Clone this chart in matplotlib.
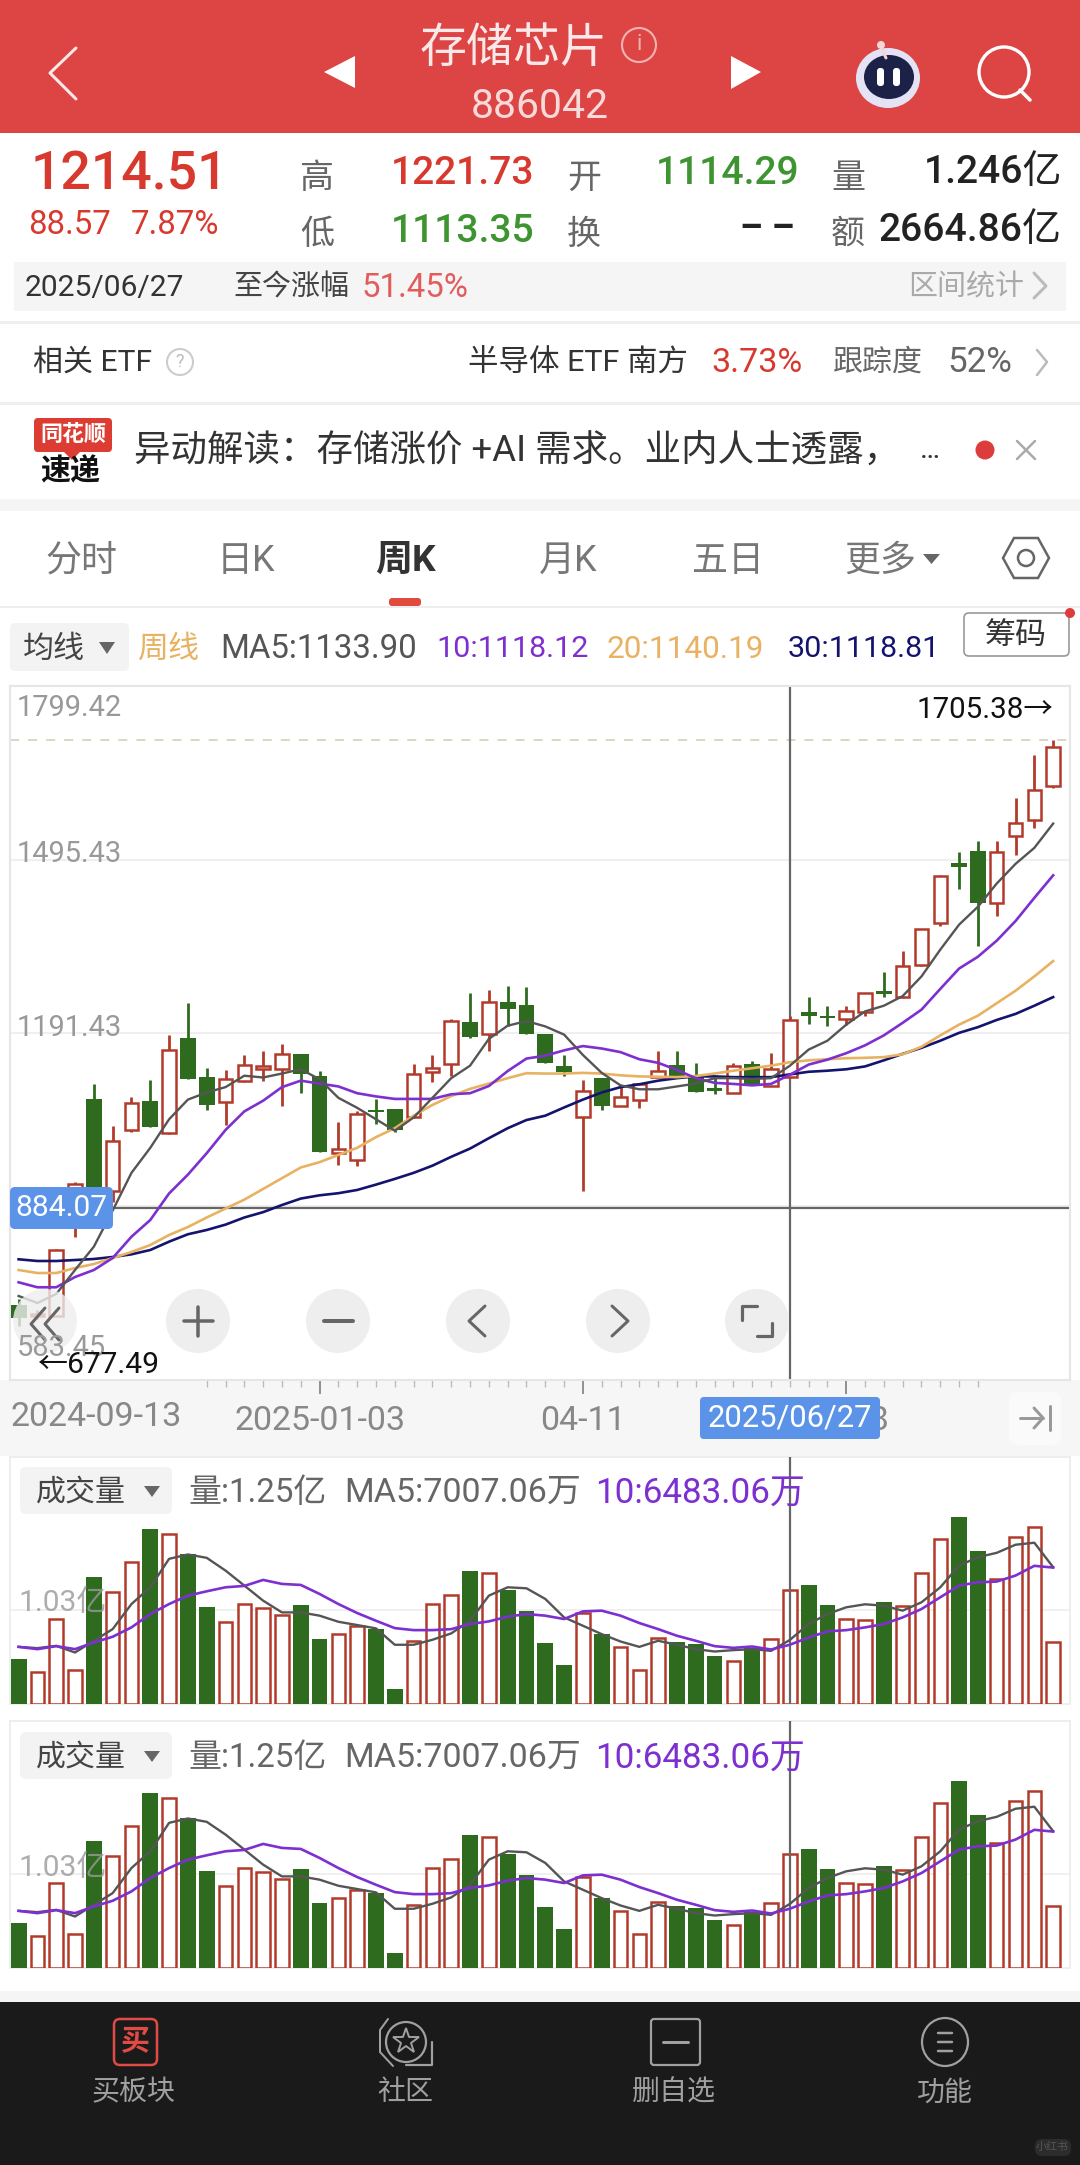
import matplotlib
matplotlib.use("Agg")
import matplotlib.pyplot as plt
from matplotlib.patches import Rectangle, Circle, Ellipse, FancyBboxPatch, Polygon

plt.rcParams['font.family'] = ['Roboto', 'Noto Sans CJK SC', 'DejaVu Sans']

# ---------- data ----------
opens = [714.3,695.0,695.5,889.7,1076.4,913.6,1021.3,1072.7,1016.3,1182.9,1113.4,1070.2,1107.1,1127.8,1127.8,1154.1,1116.5,980.6,968.1,1057.0,1058.9,1044.5,1123.4,1137.2,1211.1,1190.5,1245.0,1240.0,1189.2,1133.5,1044.5,1112.2,1063.3,1074.6,1113.4,1135.3,1115.3,1094.6,1085.8,1136.6,1097.7,1114.29,1227.4,1221.8,1216.1,1228.1,1265.6,1255.0,1310.7,1384.7,1489.9,1510.0,1419.1,1536.3,1565.1,1624.6]
highs = [725,705,812,930,1101.5,1027.6,1079.6,1109.0,1187.3,1243.7,1130.9,1126.6,1152.9,1159.1,1171.7,1154.1,1124.7,1035.7,1053.9,1076.4,1058.9,1137.2,1152.9,1215.5,1261.3,1267.5,1273.8,1271.9,1189.2,1152.9,1109.0,1112.2,1096.5,1102.7,1159.1,1159.1,1139.1,1112.2,1138.5,1142.9,1156.0,1221.73,1254.4,1239.3,1239.3,1261.3,1298.8,1334.6,1373.4,1469.3,1508.1,1528.8,1528.8,1604.0,1679.1,1705.38]
lows = [677.49,690,695,834.1,870,895.5,1016.9,1025.7,1015.0,1110.3,1057.0,1029.5,1105.9,1107.8,1063.3,1085.8,982.5,959.9,957.4,1032.6,1018.2,1043.2,1105.9,1116.5,1182.3,1159.1,1203.0,1189.2,1138.5,1116.5,914.8,1055.8,1063.3,1060.2,1113.4,1115.3,1088.3,1085.2,1085.8,1102.7,1097.7,1113.35,1208.0,1203.0,1206.1,1221.8,1255.0,1253.1,1309.5,1378.4,1444.2,1344.0,1396.0,1503.7,1550.7,1620.9]
closes = [691.0,698.5,810.8,927.3,872.2,1002.5,1068.3,1025.7,1162.3,1110.3,1065.2,1110.9,1136.0,1134.1,1154.1,1119.7,982.5,988.7,1049.5,1052.6,1021.3,1120.3,1130.9,1212.4,1184.2,1245.6,1234.3,1189.2,1138.5,1123.4,1090.2,1063.9,1079.6,1101.5,1124.7,1115.3,1088.3,1090.2,1134.1,1102.7,1127.8,1214.51,1221.2,1217.4,1230.6,1261.3,1259.4,1308.2,1373.4,1466.8,1482.4,1419.1,1509.4,1560.1,1617.7,1693.5]
ma5 = [730.1,717.8,733.6,775.7,816.6,880.0,946.1,990.0,1040.1,1074.6,1087.1,1096.5,1116.5,1113.4,1120.3,1127.8,1110.3,1077.7,1060.2,1040.1,1020.1,1043.2,1077.7,1112.2,1134.1,1181.1,1204.2,1212.4,1203.0,1188.6,1152.9,1121.5,1099.6,1092.7,1092.7,1097.7,1102.7,1112.2,1112.2,1110.9,1112.2,1133.9,1162.3,1177.9,1206.1,1229.3,1239.3,1256.2,1290.7,1337.7,1381.5,1412.9,1453.6,1488.1,1516.2,1558.8]
ma10 = [754.1,745.4,745.4,763.4,775.7,796.7,834.1,863.4,910.0,943.0,980.6,1021.3,1053.9,1072.7,1096.5,1107.8,1102.7,1097.7,1085.8,1080.2,1075.8,1075.8,1075.8,1084.0,1085.8,1098.4,1124.7,1146.6,1151.6,1161.0,1168.5,1164.2,1157.9,1145.4,1139.1,1126.6,1112.2,1104.0,1102.1,1099.6,1102.1,1118.12,1136.0,1144.7,1156.0,1169.8,1187.3,1209.3,1232.4,1268.8,1304.5,1325.2,1353.4,1387.8,1428.5,1468.0]
ma20 = [775.7,770.4,770.4,779.2,786.2,796.7,807.3,819.5,837.1,851.1,867.8,883.5,899.1,917.9,936.7,955.5,964.9,977.5,990.0,1008.8,1024.4,1046.4,1065.2,1080.8,1093.4,1102.7,1112.2,1120.9,1120.3,1120.3,1121.5,1120.3,1117.2,1115.3,1114.7,1114.0,1115.9,1120.3,1125.3,1129.7,1134.1,1140.19,1143.5,1145.4,1147.2,1147.9,1149.1,1154.1,1167.3,1187.3,1206.1,1221.8,1243.7,1265.6,1290.7,1317.6]
ma30 = [794.5,791.5,791.5,793.2,795.0,798.5,803.2,810.8,825.4,838.4,845.9,855.3,867.8,877.2,889.7,901.0,906.7,910.4,916.1,925.5,935.5,946.1,958.7,974.3,988.7,1006.9,1024.4,1038.8,1046.4,1060.8,1074.6,1087.1,1096.5,1101.5,1107.8,1112.2,1115.3,1115.3,1114.0,1114.0,1114.0,1118.81,1123.4,1125.3,1127.8,1132.8,1143.5,1154.8,1165.4,1177.9,1191.7,1201.7,1214.3,1224.9,1239.3,1254.4]
volume = [.489,.353,.931,.372,1.398,1.232,1.560,1.924,1.862,1.641,1.067,.894,1.093,1.048,.971,1.085,.710,.765,.854,.820,.158,.688,1.093,1.199,1.457,1.438,1.251,1.023,.666,.430,.993,.765,.622,.375,.717,.681,.655,.530,.467,.611,.710,1.247,1.310,1.085,.934,.920,1.115,1.074,1.442,1.806,2.057,1.678,1.369,1.836,1.943,.673]
vol_ma5 = [.625,.611,.636,.563,.692,.820,1.096,1.280,1.593,1.641,1.604,1.464,1.299,1.133,1.004,1.004,.968,.901,.865,.828,.648,.648,.703,.773,.912,1.188,1.280,1.269,1.152,.949,.857,.765,.684,.625,.692,.648,.600,.574,.589,.600,.581,.7007,.876,.986,1.060,1.093,1.078,1.023,1.115,1.280,1.519,1.611,1.659,1.748,1.770,1.501]
vol_ma10 = [.625,.600,.633,.600,.673,.736,.839,.986,1.096,1.188,1.236,1.280,1.295,1.361,1.317,1.306,1.207,1.096,.997,.912,.831,.809,.809,.820,.876,.905,.957,.986,.968,.931,1.015,1.023,.968,.887,.820,.747,.692,.633,.614,.629,.596,.648,.728,.795,.809,.839,.876,.949,1.041,1.170,1.299,1.335,1.343,1.409,1.516,1.497]
price_ticks = [1799.42, 1495.43, 1191.43, 583.45]
grid_prices = [1495.43, 1191.43, 887.44]
date_ticks = [16, 30, 44]
date_labels = ['2025-01-03', '04-11', '07-18']
cross_index = 41
cross_price = 884.07
top_price = 1705.38
vol_grid = 1.03

W, H = 1080, 2165
RED = '#B23A2B'; GREEN = '#2E6B1E'; GRAYL = '#555555'; PURPLE = '#7D2FD0'; ORANGE = '#E8B262'; NAVY = '#14146E'
HDR = '#DD4545'; UPT = '#D8392E'; DNT = '#3E9430'; LINE = '#EFEFEF'

fig = plt.figure(figsize=(W/100, H/100), dpi=100, facecolor='white')
def axpx(l, t, r, b, z):
    return fig.add_axes([l/W, 1-b/H, (r-l)/W, (b-t)/H], zorder=z)

bg = axpx(0, 0, W, H, 0); fg = axpx(0, 0, W, H, 5)
for a in (bg, fg):
    a.set_xlim(0, W); a.set_ylim(H, 0); a.axis('off'); a.patch.set_alpha(0)

def rect(a, l, t, r, b, c, **k):
    a.add_patch(Rectangle((l, t), r-l, b-t, fc=c, ec='none', **k))
def rbox(a, l, t, r, b, rad, fc, ec='none', lw=0, **k):
    a.add_patch(FancyBboxPatch((l, t), r-l, b-t, boxstyle=f'round,pad=0,rounding_size={rad}', fc=fc, ec=ec, lw=lw, **k))
def T(a, x, y, s, px, c, ha='center', **k):
    return a.text(x, y + 3, s, fontsize=px*0.72, color=c, ha=ha, va='center', **k)
def L(a, xs, ys, c, w=2, **k):
    a.plot(xs, ys, color=c, lw=w*0.72, solid_capstyle='round', solid_joinstyle='round', **k)

# ---------- header ----------
rect(bg, 0, 0, W, 133, HDR)
WT = '#FBE9E9'
T(bg, 514, 46, '存储芯片', 47, WT)
T(bg, 540, 103, '886042', 41, '#F8DADA')
bg.add_patch(Circle((639, 45), 17, fc='none', ec='#F3B4B0', lw=1.5))
T(bg, 639, 42, 'i', 22, '#F3B4B0')
L(bg, [76, 50, 76], [48, 73, 99], WT, 3)
bg.add_patch(Polygon([(355, 56), (324, 72), (355, 88)], fc='white', ec='none'))
bg.add_patch(Polygon([(731, 56), (761, 72), (731, 89)], fc='white', ec='none'))
bg.add_patch(Ellipse((888, 78), 64, 60, fc='#E3E3F5', ec='none'))
bg.add_patch(Ellipse((889, 77), 50, 44, fc='#1C2148', ec='none'))
rbox(bg, 877, 68, 884, 86, 3, 'white'); rbox(bg, 893, 68, 900, 86, 3, 'white')
bg.add_patch(Circle((881, 45), 4, fc='#F3D6D6', ec='none'))
L(bg, [881, 886], [47, 58], '#F3D6D6', 3)
bg.add_patch(Circle((1004, 72), 25, fc='none', ec='white', lw=2.4))
L(bg, [1020, 1030], [90, 100], 'white', 3.5)

# ---------- quote ----------
T(bg, 31, 172, '1214.51', 53.5, UPT, ha='left', weight='medium')
T(bg, 28, 222, '88.57', 33, UPT, ha='left')
T(bg, 131, 222, '7.87%', 33, UPT, ha='left')
for x, y, s in [(317, 176, '高'), (317, 232, '低'), (584, 176, '开'), (584, 232, '换'), (848, 176, '量'), (848, 232, '额')]:
    T(bg, x, y, s, 34, '#666666')
T(bg, 391, 170, '1221.73', 39, UPT, ha='left', weight='medium')
T(bg, 391, 228, '1113.35', 39, DNT, ha='left', weight='medium')
T(bg, 656, 170, '1114.29', 39, DNT, ha='left', weight='medium')
T(bg, 794, 226, '– –', 36, '#222222', ha='right', weight='bold')
T(bg, 1062, 170, '1.246亿', 39, '#222222', ha='right', weight='medium')
T(bg, 1062, 228, '2664.86亿', 39, '#222222', ha='right', weight='medium')

rect(bg, 14, 262, 1066, 311, '#F5F5F5')
T(bg, 25, 285, '2025/06/27', 30, '#333333', ha='left')
T(bg, 233, 285, '至今涨幅', 29, '#444444', ha='left')
T(bg, 362, 285, '51.45%', 33, '#E25C5C', ha='left')
T(bg, 908, 285, '区间统计', 29, '#AAAAAA', ha='left')
L(bg, [1034, 1046, 1034], [273, 286, 298], '#BBBBBB', 3)
rect(bg, 0, 321, W, 324, '#EFEFEF')

T(bg, 33, 360, '相关 ETF', 30, '#333333', ha='left')
bg.add_patch(Circle((180, 362), 13, fc='none', ec='#CCCCCC', lw=1.5))
T(bg, 180, 359, '?', 18, '#BBBBBB')
T(bg, 468, 360, '半导体 ETF 南方', 30.5, '#333333', ha='left')
T(bg, 711, 360, '3.73%', 34, UPT, ha='left')
T(bg, 833, 360, '跟踪度', 30, '#666666', ha='left')
T(bg, 947, 360, '52%', 35, '#666666', ha='left')
L(bg, [1037, 1047, 1037], [350, 362, 375], '#BBBBBB', 2.5)
rect(bg, 0, 402, W, 405, '#EFEFEF')

rbox(bg, 34, 418, 112, 452, 4, '#DD3C33')
bg.add_patch(Polygon([(64, 452), (80, 452), (72, 460)], fc='#DD3C33', ec='none'))
T(bg, 73, 432, '同花顺', 22, 'white', weight='bold')
T(bg, 70, 469, '速递', 30, '#111111', weight='bold')
T(bg, 134, 448, '异动解读：存储涨价 +AI 需求。业内人士透露，', 36.5, '#333333', ha='left')
T(bg, 930, 447, '…', 30, '#333333')
bg.add_patch(Circle((985, 450), 9.5, fc='#DD3C3C', ec='none'))
L(bg, [1017, 1035], [441, 459], '#AAAAAA', 2.5); L(bg, [1035, 1017], [441, 459], '#AAAAAA', 2.5)
rect(bg, 0, 499, W, 511, '#F5F5F5')

# ---------- tabs ----------
for x, s in [(81, '分时'), (246, '日K'), (568, '月K'), (728, '五日'), (880, '更多')]:
    T(bg, x, 558, s, 36, '#777777')
T(bg, 405, 558, '周K', 37, '#333333', weight='bold')
bg.add_patch(Polygon([(923, 554), (940, 554), (931.5, 564)], fc='#666666', ec='none'))
bg.add_patch(Polygon([(1003, 558), (1014, 538), (1038, 538), (1049, 558), (1038, 578), (1014, 578)], fc='none', ec='#666666', lw=1.8))
bg.add_patch(Circle((1026, 558), 8, fc='none', ec='#666666', lw=1.8))
rbox(bg, 389, 598, 421, 606, 3, '#E04B3E')
rect(bg, 0, 606, W, 608, '#EEEEEE')

rbox(bg, 10, 623, 129, 671, 5, '#F3F3F3')
T(bg, 54, 646, '均线', 31, '#444444')
bg.add_patch(Polygon([(99, 642), (115, 642), (107, 654)], fc='#666666', ec='none'))
T(bg, 169, 646, '周线', 31, ORANGE)
T(bg, 220, 646, 'MA5:1133.90', 33, '#555555', ha='left')
T(bg, 436, 646, '10:1118.12', 30.5, PURPLE, ha='left')
T(bg, 607, 646, '20:1140.19', 31.5, ORANGE, ha='left')
T(bg, 788, 646, '30:1118.81', 30.5, NAVY, ha='left')
rbox(bg, 964, 613, 1069, 656, 5, 'white', ec='#999999', lw=1.2)
T(bg, 1016, 632, '筹码', 31, '#333333')
bg.add_patch(Circle((1070, 613), 5, fc='#DD3C3C', ec='none'))

# axis strip and panel backgrounds
rect(bg, 0, 1380, W, 1456, '#F6F6F6')
rect(bg, 0, 1991, W, 2002, '#F5F5F5')
rect(bg, 0, 2002, W, H, '#1A1A1A')

# ---------- price chart ----------
X0 = 18.6; DX = 18.81; AL = 10.3; AR = 1069.6
xlim = ((AL-X0)/DX, (AR-X0)/DX)
xs = list(range(len(opens)))
ax = axpx(AL, 686.4, AR, 1379.6, 2)
ax.set_xlim(*xlim); ax.set_ylim(price_ticks[-1], price_ticks[0])
for p in grid_prices:
    ax.axhline(p, color=LINE, lw=1.5, zorder=1)
ax.axhline(top_price, color='#D8D3BE', lw=1.3, ls=(0, (5, 5)), zorder=1)
ax.axvline(cross_index, color='#666666', lw=1.6, zorder=2)
ax.axhline(cross_price, color='#666666', lw=1.6, zorder=2)
up = [c >= o for o, c in zip(opens, closes)]
ax.vlines(xs, lows, highs, colors=[RED if u else GREEN for u in up], lw=2.0, zorder=3)
up_x = [i for i in xs if up[i]]; dn_x = [i for i in xs if not up[i]]
ax.bar(dn_x, [opens[i]-closes[i] for i in dn_x], bottom=[closes[i] for i in dn_x], width=0.84, color=GREEN, lw=0, zorder=4)
ax.bar(up_x, [closes[i]-opens[i] for i in up_x], bottom=[opens[i] for i in up_x], width=0.72, facecolor='white', edgecolor=RED, lw=1.8, zorder=4)
ax.plot(xs, ma30, color=NAVY, lw=1.9, zorder=5)
ax.plot(xs, ma20, color=ORANGE, lw=1.9, zorder=6)
ax.plot(xs, ma10, color=PURPLE, lw=1.9, zorder=7)
ax.plot(xs, ma5, color=GRAYL, lw=1.7, zorder=8)
for s in ax.spines.values():
    s.set_color('#E6E6E6'); s.set_linewidth(1.5)
ax.set_yticks([])
ax.set_xticks(date_ticks, labels=date_labels)
ax.set_xticks(list(range(10, 52)), minor=True)
ax.tick_params(axis='x', which='major', length=10, width=1.3, color='#888888', labelsize=34*0.72, labelcolor='#888888', pad=8)
ax.tick_params(axis='x', which='minor', length=5, width=1, color='#BBBBBB')

for p, y in zip(price_ticks, [705, 851, 1025, 1345]):
    T(fg, 17, y, f'{p:.2f}', 29, '#999999', ha='left')
T(fg, 1053, 707, f'{top_price:.2f}→', 29.5, '#111111', ha='right')
T(fg, 38, 1362, f'←{lows[0]:.2f}', 30, '#111111', ha='left')
rbox(fg, 10, 1187, 113, 1229, 5, '#5B93E8')
T(fg, 61, 1205, f'{cross_price:.2f}', 30, 'white')
T(fg, 10, 1414, '2024-09-13', 34, '#888888', ha='left')
rbox(fg, 700, 1397, 880, 1439, 4, '#5B93E8')
T(fg, 790, 1415, '2025/06/27', 31, 'white')
rbox(fg, 1009, 1392, 1061, 1445, 8, '#FAFAFA')
L(fg, [1020, 1043], [1418, 1418], '#999999', 3); L(fg, [1034, 1043, 1034], [1408, 1418, 1428], '#999999', 3)
L(fg, [1050, 1050], [1406, 1430], '#999999', 3)

# nav buttons
GB = '#EEEEEE'; IC = '#666666'
fg.add_patch(Circle((45, 1321), 32, fc=GB, ec='none', alpha=0.8))
for x in (198, 338, 478, 618, 757):
    fg.add_patch(Circle((x, 1321), 32, fc=GB, ec='none'))
L(fg, [45, 31, 45], [1308, 1324, 1340], IC, 3); L(fg, [59, 45, 59], [1308, 1324, 1340], IC, 3)
L(fg, [184, 213], [1321, 1321], IC, 3.5); L(fg, [198, 198], [1307, 1336], IC, 3.5)
L(fg, [324, 353], [1321, 1321], IC, 4)
L(fg, [485, 469, 485], [1306, 1321, 1336], IC, 3)
L(fg, [612, 628, 612], [1306, 1321, 1336], IC, 3)
L(fg, [742, 742, 757], [1320, 1306, 1306], IC, 3.2); L(fg, [772, 772, 757], [1323, 1336, 1336], IC, 3.2)

# ---------- volume panels ----------
def vol_panel(top, bottom, dy):
    v = axpx(AL, top, AR, bottom + 1, 2)
    v.set_xlim(*xlim); v.set_ylim(0, 2.716)
    v.axhline(vol_grid, color=LINE, lw=1.3, zorder=1)
    v.axvline(cross_index, color='#666666', lw=1.6, zorder=5)
    v.bar(dn_x, [volume[i] for i in dn_x], width=0.84, color=GREEN, lw=0, zorder=3)
    v.bar(up_x, [volume[i] for i in up_x], width=0.72, facecolor='white', edgecolor=RED, lw=1.8, zorder=3)
    v.plot(xs, vol_ma5, color=GRAYL, lw=1.7, zorder=6)
    v.plot(xs, vol_ma10, color=PURPLE, lw=1.9, zorder=7)
    v.set_xticks([]); v.set_yticks([])
    for s in v.spines.values():
        s.set_color('#EDEDED'); s.set_linewidth(1.3)
    rbox(fg, 20, 1467+dy, 172, 1514+dy, 6, '#F3F3F3')
    T(fg, 81, 1490+dy, '成交量', 30, '#444444')
    fg.add_patch(Polygon([(144, 1486+dy), (160, 1486+dy), (152, 1497+dy)], fc='#666666', ec='none'))
    T(fg, 188, 1490+dy, '量:1.25亿', 33, '#666666', ha='left')
    T(fg, 344, 1490+dy, 'MA5:7007.06万', 34, '#666666', ha='left')
    T(fg, 595, 1490+dy, '10:6483.06万', 35, PURPLE, ha='left')
    T(fg, 18, 1600+dy, '1.03亿', 30, '#999999', ha='left', alpha=0.8)

vol_panel(1456.7, 1702.7, 0)
vol_panel(1720.7, 1966.7, 265)

# ---------- bottom bar ----------
BT = '#A0A0A0'
for x, s in [(405, '社区'), (674, '删自选'), (945, '功能')]:
    T(fg, x, 2090, s, 28, BT)
T(fg, 134, 2090, '买板块', 28, BT)
rbox(fg, 114, 2019, 157, 2065, 6, 'none', ec='#E04B45', lw=1.8)
T(fg, 135, 2039, '买', 29, '#E04B45', weight='bold')
fg.add_patch(Circle((406, 2042), 20, fc='none', ec=BT, lw=1.6))
L(fg, [406, 432, 432], [2065, 2065, 2042], BT, 2.2)
fg.plot([406], [2041], marker='*', ms=19, mfc='none', mec=BT, mew=1.4)
L(fg, [388, 380, 380, 393], [2019, 2030, 2052, 2066], BT, 2)
rbox(fg, 651, 2019, 700, 2065, 3, 'none', ec=BT, lw=1.6)
L(fg, [663, 688], [2042, 2042], BT, 3)
fg.add_patch(Ellipse((945, 2042), 46, 48, fc='none', ec=BT, lw=1.6))
for y in (2033, 2042, 2051):
    L(fg, [938, 952], [y, y], BT, 2.5)
rbox(fg, 1035, 2139, 1071, 2156, 7, '#2C2C2C')
T(fg, 1052, 2144, '小红书', 11, '#555555')

fig.savefig('out.png', dpi=100, facecolor='white')
